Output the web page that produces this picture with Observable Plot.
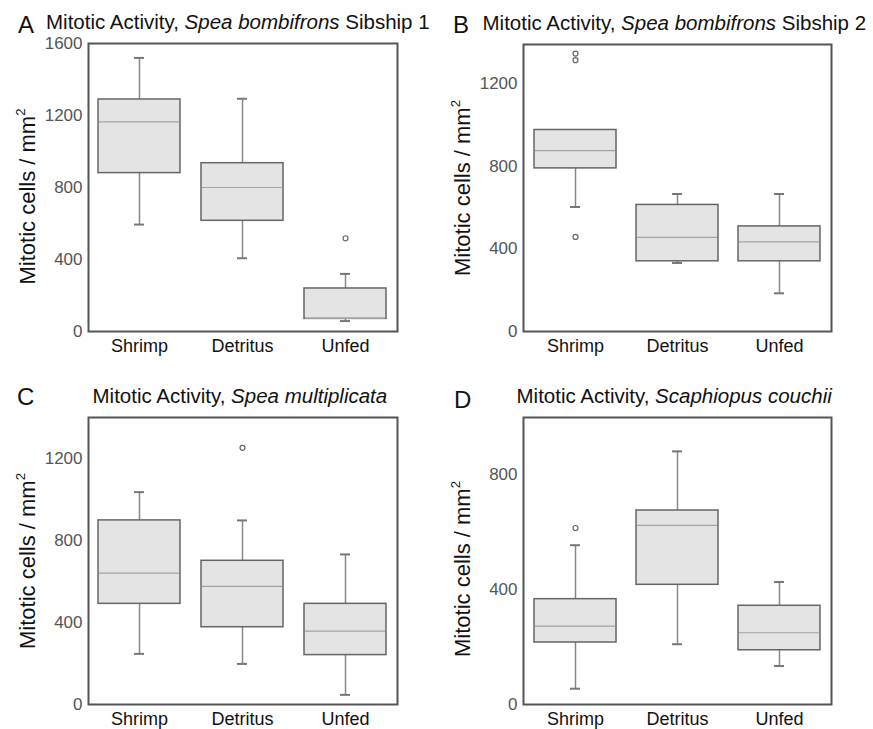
<!DOCTYPE html>
<html><head><meta charset="utf-8">
<script src="https://cdn.jsdelivr.net/npm/d3@7"></script>
<script src="https://cdn.jsdelivr.net/npm/@observablehq/plot@0.6"></script>
<style>
body{margin:0;background:#fff;font-family:"Liberation Sans",Arial,sans-serif;}
#root{position:relative;width:873px;height:729px;overflow:hidden;background:#fff}
.panel{position:absolute}
.lbl{position:absolute;white-space:nowrap;line-height:1;color:#111}
.letter{font-size:24px}
.title{font-size:20.5px}
</style></head><body><div id="root"></div><script>
const categories = ["Shrimp", "Detritus", "Unfed"];
// per category: [low whisker, Q1, median, Q3, high whisker]
const statsA = [[594, 880, 1165, 1289, 1520], [407, 615, 800, 935, 1293], [58, 70, 73, 239, 320]];
const outliersA = [["Unfed", 518]];
const statsB = [[603, 790, 876, 976, 976], [332, 340, 456, 613, 666], [185, 340, 434, 509, 666]];
const outliersB = [["Shrimp", 1346], ["Shrimp", 1314], ["Shrimp", 458]];
const statsC = [[247, 491, 641, 898, 1036], [198, 377, 576, 701, 898], [47, 241, 358, 491, 732]];
const outliersC = [["Detritus", 1252]];
const statsD = [[55, 216, 273, 367, 555], [210, 417, 624, 676, 882], [134, 189, 250, 344, 427]];
const outliersD = [["Shrimp", 615]];
const ticksA = [0, 400, 800, 1200, 1600];
const ticksB = [0, 400, 800, 1200];
const ticksC = [0, 400, 800, 1200];
const ticksD = [0, 400, 800];
const yLabelMain = "Mitotic cells / mm";
const yLabelSup = "2";
const titleStart = "Mitotic Activity, ";
const species = ["Spea bombifrons", "Spea bombifrons", "Spea multiplicata", "Scaphiopus couchii"];
const titleEnds = [" Sibship 1", " Sibship 2", "", ""];
const letters = ["A", "B", "C", "D"];

const root = document.getElementById("root");

function panel(cfg) {
  const rows = categories.map((c, i) => ({cat: c, low: cfg.stats[i][0], q1: cfg.stats[i][1], med: cfg.stats[i][2], q3: cfg.stats[i][3], high: cfg.stats[i][4]}));
  const outs = cfg.outliers.map(([cat, v]) => ({cat, v}));
  const cap = 36;
  const chart = Plot.plot({
    width: cfg.w, height: cfg.h,
    marginTop: cfg.mt, marginBottom: cfg.mb, marginLeft: cfg.ml, marginRight: cfg.mr,
    style: {fontFamily: "Liberation Sans, Arial, sans-serif", fontSize: "17px", background: "transparent", overflow: "visible"},
    x: {type: "band", domain: categories, paddingInner: 0.2, paddingOuter: 0.1},
    y: {domain: cfg.domain},
    marks: [
      Plot.ruleX(rows, {x: "cat", y1: "low", y2: "q1", stroke: "#888", strokeWidth: 1.5}),
      Plot.ruleX(rows, {x: "cat", y1: "q3", y2: "high", stroke: "#888", strokeWidth: 1.5}),
      Plot.tickY(rows, {x: "cat", y: "low", insetLeft: cap, insetRight: cap, stroke: "#777", strokeWidth: 2}),
      Plot.tickY(rows, {x: "cat", y: "high", insetLeft: cap, insetRight: cap, stroke: "#777", strokeWidth: 2}),
      Plot.barY(rows, {x: "cat", y1: "q1", y2: "q3", fill: "#e4e4e4", stroke: "#666", strokeWidth: 1.5}),
      Plot.tickY(rows, {x: "cat", y: "med", insetLeft: 1, insetRight: 1, stroke: "#a3a3a3", strokeWidth: 1.2}),
      Plot.dot(outs, {x: "cat", y: "v", r: 2.5, stroke: "#666", strokeWidth: 1.2, fill: "none"}),
      Plot.frame({stroke: "#555", strokeWidth: 2}),
      Plot.axisY({ticks: cfg.ticks, tickSize: 0, tickPadding: 6, tickFormat: d => String(d), color: "#555", fontSize: 17, label: null}),
      Plot.axisX({tickSize: 0, tickPadding: 8, color: "#111", fontSize: 18, label: null}),
      Plot.text([yLabelMain], {text: d => d, frameAnchor: "left", dx: -61, dy: cfg.dyLabel, rotate: -90, fontSize: 22, fill: "#111", textAnchor: "middle", lineAnchor: "middle"})
    ]
  });
  // add the superscript to the axis title
  chart.querySelectorAll("text").forEach(t => {
    if (t.textContent === yLabelMain) {
      const ts = document.createElementNS("http://www.w3.org/2000/svg", "tspan");
      ts.setAttribute("dy", "-0.75em");
      ts.setAttribute("font-size", "0.6em");
      ts.textContent = yLabelSup;
      t.appendChild(ts);
    }
  });
  const div = document.createElement("div");
  div.className = "panel";
  div.style.left = cfg.left + "px";
  div.style.top = cfg.top + "px";
  div.appendChild(chart);
  root.appendChild(div);

  const L = document.createElement("div");
  L.className = "lbl letter";
  L.textContent = letters[cfg.k];
  L.style.left = cfg.letterX + "px";
  L.style.top = cfg.letterTop + "px";
  root.appendChild(L);

  const T = document.createElement("div");
  T.className = "lbl title";
  T.appendChild(document.createTextNode(titleStart));
  const it = document.createElement("i");
  it.textContent = species[cfg.k];
  T.appendChild(it);
  T.appendChild(document.createTextNode(titleEnds[cfg.k]));
  T.style.left = cfg.titleX + "px";
  T.style.top = cfg.titleTop + "px";
  root.appendChild(T);
}

panel({k: 0, stats: statsA, outliers: outliersA, domain: [0, 1600], ticks: ticksA, left: 0, top: 0, w: 436, h: 360, mt: 43, mb: 29, ml: 88, mr: 39, dyLabel: 9, letterX: 18, letterTop: 13, titleX: 46, titleTop: 12});
panel({k: 1, stats: statsB, outliers: outliersB, domain: [0, 1390], ticks: ticksB, left: 436, top: 0, w: 437, h: 360, mt: 44, mb: 29, ml: 87, mr: 42, dyLabel: 0, letterX: 453, letterTop: 13, titleX: 482.5, titleTop: 13});
panel({k: 2, stats: statsC, outliers: outliersC, domain: [0, 1400], ticks: ticksC, left: 0, top: 360, w: 436, h: 369, mt: 57, mb: 25, ml: 88, mr: 39, dyLabel: 0, letterX: 17, letterTop: 385, titleX: 92.5, titleTop: 386});
panel({k: 3, stats: statsD, outliers: outliersD, domain: [0, 1000], ticks: ticksD, left: 436, top: 360, w: 437, h: 369, mt: 57, mb: 25, ml: 87, mr: 42, dyLabel: 8, letterX: 454, letterTop: 388, titleX: 516.5, titleTop: 386});
</script></body></html>
